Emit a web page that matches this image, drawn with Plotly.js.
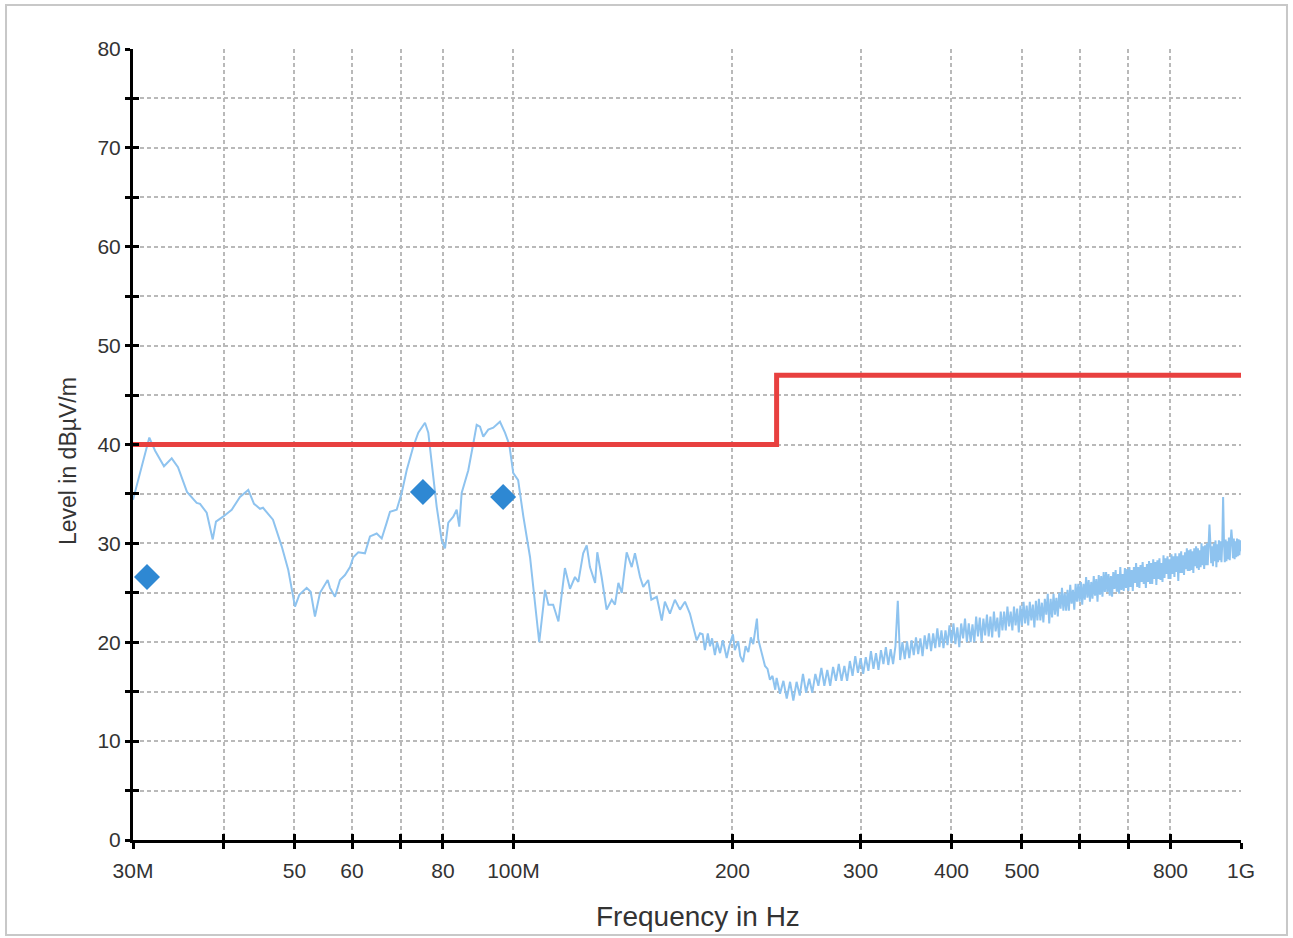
<!DOCTYPE html>
<html>
<head>
<meta charset="utf-8">
<script src="https://cdn.plot.ly/plotly-3.0.1.min.js"></script>
<style>
html,body{margin:0;padding:0;background:#fff;}
#chart{width:1293px;height:938px;}
</style>
</head>
<body>
<div id="chart"></div>
<script>
// Scan (MHz, dBµV/m)
const scanFreq = [
30.0,30.67,31.59,32.16,33.09,33.91,34.59,35.59,36.70,37.09,37.88,38.61,39.01,39.89,41.00,42.09,43.21,44.00,44.84,45.27,
46.72,48.03,49.04,50.09,50.78,51.98,52.64,53.36,54.22,55.55,55.96,56.85,57.76,58.68,59.62,60.24,61.20,62.51,63.51,64.87,
65.91,66.96,67.66,69.11,70.21,71.33,72.84,74.00,75.59,76.38,77.21,78.44,79.69,80.53,81.37,82.67,83.56,84.25,84.89,86.69,
88.07,89.02,89.96,90.90,92.35,93.82,95.83,97.36,98.69,99.95,101.5,103.2,105.4,107.1,108.5,109.9,110.5,111.7,113.4,115.3,
117.7,119.6,121.5,122.8,124.7,126.1,127.4,129.5,130.4,132.2,134.3,136.5,137.9,139.4,140.9,143.1,145.4,146.9,149.3,150.8,
153.2,154.7,157.4,159.9,161.5,164.1,166.7,169.4,172.1,174.8,178.6,180.5,
182,183.3,185,186.3,187.5,189.2,190.5,192.3,194,196.4,198,200.3,201.5,203.7,205,206.8,208.5,210.3,212,213.6,215,216.1,217,218.2,220,221.7,223.5,225.2,227,229,
230,232.5,235,237.5,240,242.5,245,247.5,250,252.5,255,257.5,260,262.5,265,267.5,270,272.5,275,277.5,
280,282.5,285,287.5,290,292.5,295,297.5,300,302.5,305,307.5,310,312.5,315,317.5,320,322.5,325,327.5,
330,332.5,335,337.5,340,342.5,345,347.5,350,352.5,355,357.5,360,362.5,365,367.5,370,372.5,375,377.5,
380,382.5,385,387.5,390,392.5,395,397.5,400,
402.5,405,407.5,410,412.5,415,417.5,420,422.5,425,427.5,430,432.5,435,437.5,440,442.5,445,447.5,450,
452.5,455,457.5,460,462.5,465,467.5,470,472.5,475,477.5,480,482.5,485,487.5,490,492.5,495,497.5,500,
502.5,505,507.5,510,512.5,515,517.5,520,522.5,525,527.5,530,532.5,535,537.5,540,542.5,545,547.5,550,
552.5,555,557.5,560,562.5,565,567.5,570,572.5,575,577.5,580,582.5,585,587.5,590,592.5,595,597.5,600,
602.5,605,607.5,610,612.5,615,617.5,620,622.5,625,627.5,630,632.5,635,637.5,640,642.5,645,647.5,650,
652.5,655,657.5,660,662.5,665,667.5,670,672.5,675,677.5,680,682.5,685,687.5,690,692.5,695,697.5,700,
702.5,705,707.5,710,712.5,715,717.5,720,722.5,725,727.5,730,732.5,735,737.5,740,742.5,745,747.5,750,
752.5,755,757.5,760,762.5,765,767.5,770,772.5,775,777.5,780,782.5,785,787.5,790,792.5,795,797.5,800,
802.5,805,807.5,810,812.5,815,817.5,820,822.5,825,827.5,830,832.5,835,837.5,840,842.5,845,847.5,850,
852.5,855,857.5,860,862.5,865,867.5,870,872.5,875,877.5,880,882.5,885,887.5,890,892.5,895,897.5,900,
902.5,905,907.5,910,912.5,915,917.5,920,922.5,925,927.5,930,932.5,935,937.5,940,942.5,945,947.5,950,
952.5,955,957.5,960,962.5,965,967.5,970,972.5,975,977.5,980,982.5,985,987.5,990,992.5,995,997.5,1000
];
const scanLevel = [
34.4,37.1,40.7,39.4,37.8,38.6,37.7,35.2,34.1,34.0,33.1,30.4,32.2,32.7,33.4,34.7,35.4,34.0,33.5,33.6,
32.4,29.7,27.3,23.6,24.8,25.5,25.1,22.6,25.0,26.3,25.5,24.6,26.3,26.8,27.6,28.6,29.1,29.0,30.7,31.0,
30.5,32.1,33.2,33.4,35.1,37.4,39.8,41.2,42.2,41.2,38.1,33.7,30.3,29.5,32.1,32.7,33.4,31.7,35.1,37.4,
40.1,42.0,41.8,40.8,41.5,41.7,42.3,41.2,40.0,37.1,36.4,32.7,28.6,23.6,20.0,23.6,25.3,23.8,23.8,22.1,
27.5,25.4,26.6,26.1,29.0,29.8,27.6,26.0,29.1,26.6,23.3,24.3,23.8,26.0,25.0,29.1,27.6,29.0,26.6,25.6,
26.3,24.3,24.6,22.2,24.1,22.9,24.3,23.3,24.1,22.9,20.2,20.9,
20.8,19.2,20.9,19.6,20.4,18.7,20.0,18.9,20.2,18.4,19.6,20.8,19.2,20.1,18.6,18.0,19.6,19.0,20.5,19.8,21.2,22.4,20.3,19.6,18.6,17.6,17.3,16.2,16.6,15.2,
16.4,14.8,16.1,14.3,16.0,14.1,16.0,14.6,16.8,14.9,16.3,14.9,16.8,15.6,17.4,15.6,17.2,15.6,17.5,16.1,
17.8,16.1,17.6,16.1,18.1,16.6,18.6,16.9,18.4,16.8,18.5,17.1,19.1,17.3,18.9,17.2,19.2,17.8,19.5,17.7,
19.3,17.8,19.6,24.2,18.2,20.0,18.3,20.1,18.4,20.2,18.7,20.5,18.8,20.4,18.6,20.7,19.3,20.9,19.1,20.9,
19.4,21.4,19.5,21.2,19.4,21.2,19.7,21.7,19.9,
21.9,19.8,21.5,19.5,21.9,20.4,22.4,20.0,21.9,20.0,21.8,20.0,22.6,20.6,22.5,20.0,22.4,20.7,22.8,20.6,
22.6,20.5,23.1,21.1,22.5,20.5,23.1,21.2,23.1,21.2,23.6,21.6,23.1,21.2,23.6,21.7,23.4,21.0,23.7,21.7,
24.1,21.9,23.7,21.7,24.1,22.2,23.8,21.5,24.2,22.2,24.4,22.2,24.0,22.0,24.4,22.8,24.9,21.9,24.4,22.5,
24.9,22.8,24.5,22.6,25.0,23.4,25.5,23.2,25.0,23.2,25.3,23.2,25.8,23.9,25.3,23.3,25.9,24.1,25.9,24.1,
26.1,23.8,25.9,24.3,26.6,24.5,26.3,24.1,26.1,24.4,26.7,24.7,26.4,24.1,26.8,24.8,26.7,24.6,27.1,25.1,
27.1,25.1,26.9,24.7,26.7,24.6,27.1,25.4,27.3,25.1,26.9,24.9,27.6,25.3,26.9,25.2,27.5,25.5,27.4,25.2,
27.6,25.6,27.3,25.2,27.6,26.0,28.0,25.6,27.6,25.5,27.8,26.1,28.1,25.9,27.6,25.5,27.9,26.1,28.2,25.9,
28.0,25.9,28.4,26.4,28.1,25.8,28.3,26.4,28.5,26.3,28.0,26.1,28.8,26.5,28.5,26.9,28.7,26.4,28.4,26.4,
28.9,26.9,28.7,26.6,29.0,27.1,28.7,26.2,29.0,27.0,29.2,27.0,28.8,26.8,29.1,27.4,29.5,27.2,29.3,27.2,
29.4,27.3,29.2,27.0,29.5,27.7,29.7,27.5,29.5,27.3,29.3,27.6,30.0,27.8,29.7,27.4,29.8,27.8,30.0,27.8,
29.9,31.9,30.1,28.0,29.7,27.7,30.0,28.2,30.3,27.6,29.9,28.1,30.3,28.3,30.2,28.1,30.1,34.7,30.2,28.1,
30.4,28.2,30.2,28.4,30.6,28.3,30.1,31.4,30.3,28.5,30.5,28.4,30.2,28.6,30.5,28.7,30.4,28.8,30.3,29.2
];
// Limit line
const limitFreq = [30, 230, 230, 1000];
const limitLevel = [40, 40, 47, 47];
// Final measurement points
const peakFreq = [31.36, 75.1, 96.8];
const peakLevel = [26.6, 35.2, 34.7];
// Axis ticks
const xTickVals = [30, 40, 50, 60, 70, 80, 100, 200, 300, 400, 500, 600, 700, 800, 1000];
const xTickText = ['30M', '', '50', '60', '', '80', '100M', '200', '300', '400', '500', '', '', '800', '1G'];
const yTickVals = [0,5,10,15,20,25,30,35,40,45,50,55,60,65,70,75,80];
const yTickText = ['0','','10','','20','','30','','40','','50','','60','','70','','80'];
const xTitle = 'Frequency in Hz';
const yTitle = 'Level in dBµV/m';

const xRange = [Math.log10(30), Math.log10(1000)];
const yRange = [0, 80];
const font = 'Liberation Sans, Arial, sans-serif';

const traces = [
  {x: scanFreq, y: scanLevel, type: 'scatter', mode: 'lines',
   line: {color: '#8ec3ef', width: 2}, hoverinfo: 'skip'},
  {x: limitFreq, y: limitLevel, type: 'scatter', mode: 'lines',
   line: {color: '#e8403f', width: 5}, hoverinfo: 'skip'},
  {x: peakFreq, y: peakLevel, type: 'scatter', mode: 'markers',
   marker: {symbol: 'diamond', size: 20, color: '#2e88d3'}, hoverinfo: 'skip'},
  {x: [], y: [], xaxis: 'x2', yaxis: 'y2', type: 'scatter', mode: 'lines', hoverinfo: 'skip'}
];

const gridStyle = {showgrid: true, gridcolor: '#b9b9b9', gridwidth: 2, griddash: '4px,3px'};

const layout = {
  width: 1293, height: 938,
  margin: {l: 133, r: 52, t: 49, b: 98},
  paper_bgcolor: '#ffffff', plot_bgcolor: '#ffffff',
  showlegend: false,
  font: {family: font, color: '#333333', size: 20},
  xaxis: Object.assign({
    type: 'log', range: xRange, tickmode: 'array', tickvals: xTickVals, ticktext: xTickText,
    ticks: 'outside', ticklen: 6, tickwidth: 3, tickcolor: '#000',
    showline: true, linecolor: '#000', linewidth: 3, zeroline: false,
    tickfont: {family: font, size: 21, color: '#333'}, ticklabelstandoff: 4
  }, gridStyle),
  yaxis: Object.assign({
    range: yRange, tickmode: 'array', tickvals: yTickVals, ticktext: yTickText,
    ticks: 'outside', ticklen: 5, tickwidth: 3, tickcolor: '#000',
    showline: true, linecolor: '#000', linewidth: 3, zeroline: false,
    tickfont: {family: font, size: 21, color: '#333'}, ticklabelstandoff: 0
  }, gridStyle),
  xaxis2: {
    type: 'log', range: xRange, overlaying: 'x', anchor: 'y2', side: 'bottom',
    tickmode: 'array', tickvals: xTickVals, showticklabels: false,
    ticks: 'inside', ticklen: 6, tickwidth: 3, tickcolor: '#000',
    showgrid: false, showline: false, zeroline: false
  },
  yaxis2: {
    range: yRange, overlaying: 'y', anchor: 'x2', side: 'left',
    tickmode: 'array', tickvals: yTickVals, showticklabels: false,
    ticks: 'inside', ticklen: 6, tickwidth: 3, tickcolor: '#000',
    showgrid: false, showline: false, zeroline: false
  },
  annotations: [
    {text: xTitle, xref: 'paper', yref: 'paper', x: 0.510, y: -0.0973,
     xanchor: 'center', yanchor: 'middle', showarrow: false,
     font: {family: font, size: 28, color: '#333'}},
    {text: yTitle, xref: 'paper', yref: 'paper', x: -0.0587, y: 0.479,
     xanchor: 'center', yanchor: 'middle', showarrow: false, textangle: -90,
     font: {family: font, size: 23, color: '#333'}}
  ],
  shapes: [{
    type: 'rect', xref: 'paper', yref: 'paper',
    x0: -0.1146, x1: 1.0415, y0: -0.1201, y1: 1.0556,
    line: {color: '#c8c8c8', width: 2}, fillcolor: 'rgba(0,0,0,0)', layer: 'below'
  }]
};

Plotly.newPlot('chart', traces, layout, {staticPlot: true, displayModeBar: false});
</script>
</body>
</html>
